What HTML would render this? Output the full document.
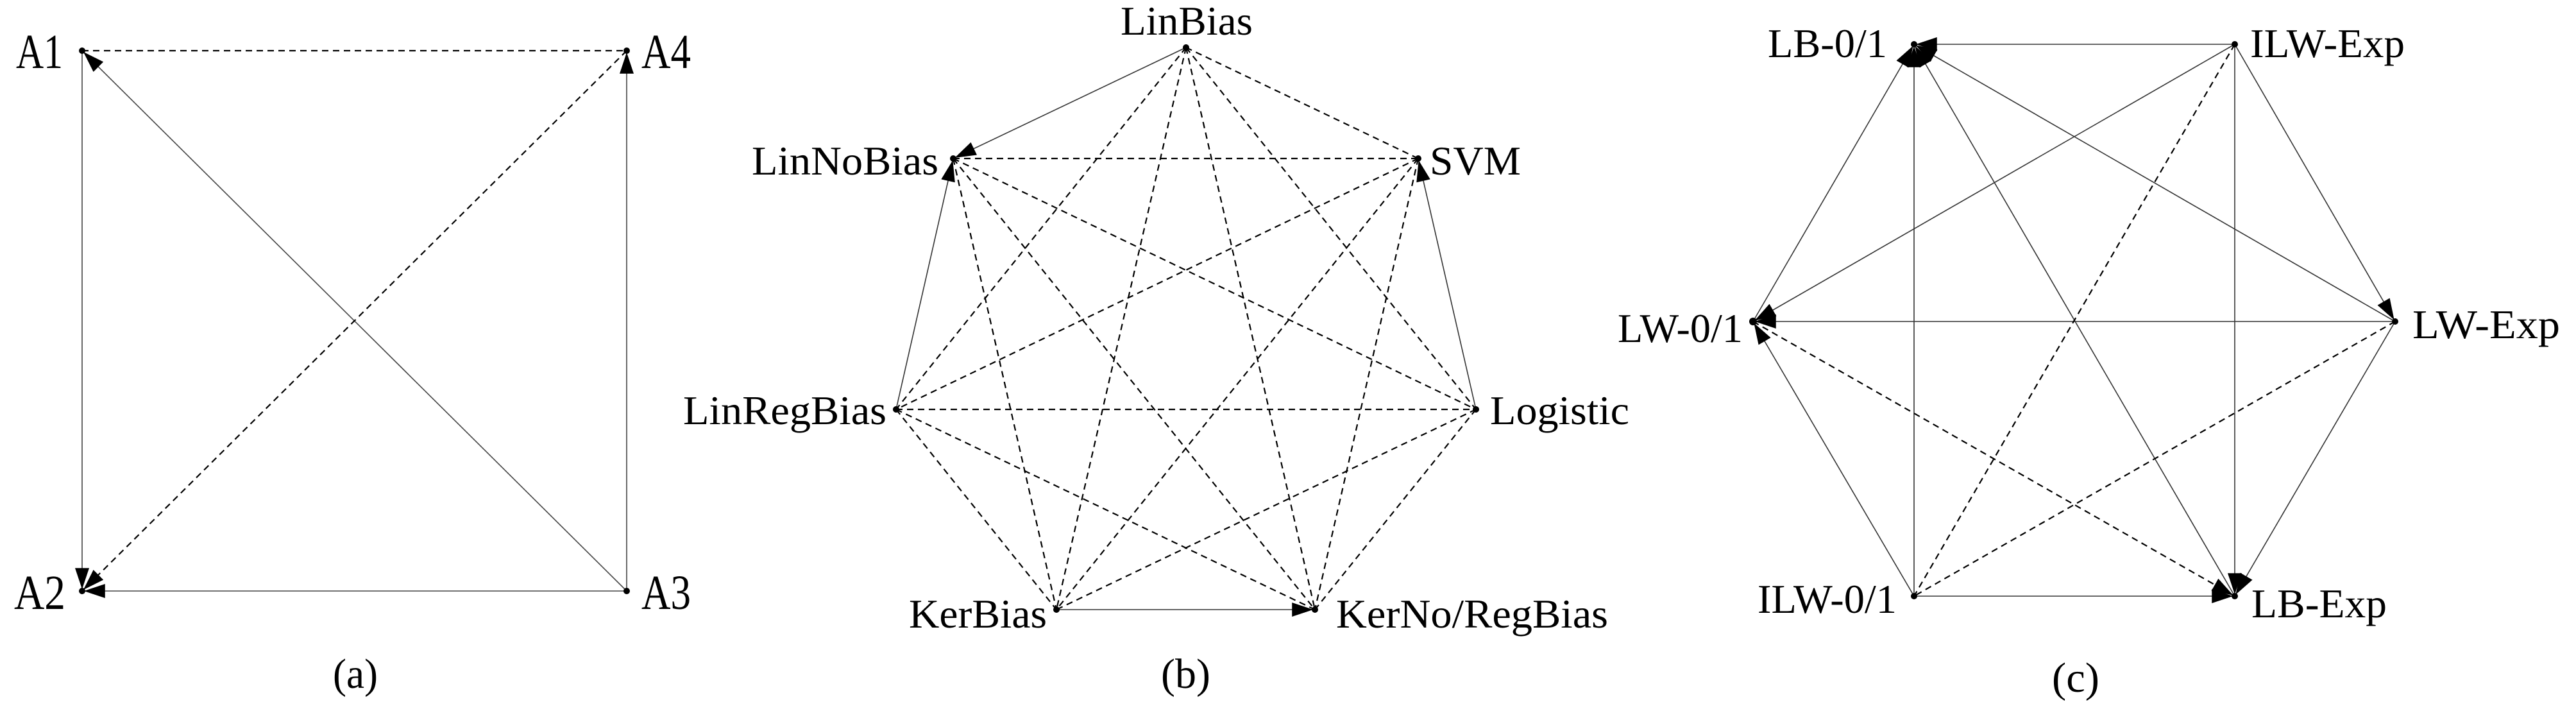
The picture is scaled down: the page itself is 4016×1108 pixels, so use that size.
<!DOCTYPE html>
<html><head><meta charset="utf-8"><style>
html,body{margin:0;padding:0;background:#fff;}
svg{display:block;}
text{font-family:"Liberation Serif",serif;fill:#000;}
</style></head><body>
<svg width="4016" height="1108" viewBox="0 0 4016 1108" xmlns="http://www.w3.org/2000/svg">
<defs>
<marker id="ah" viewBox="0 0 12 8" markerUnits="userSpaceOnUse" markerWidth="36" markerHeight="22" refX="13" refY="4" orient="auto">
<path d="M0,0 L12,4 L0,8 z" fill="#000"/></marker>
</defs>
<g fill="none">
<!-- (a) -->
<g stroke="#444" stroke-width="1.6">
<line x1="128" y1="79" x2="128" y2="921" marker-end="url(#ah)"/>
<line x1="977" y1="921" x2="128" y2="921" marker-end="url(#ah)"/>
<line x1="977" y1="921" x2="977" y2="79" marker-end="url(#ah)"/>
<line x1="977" y1="921" x2="128" y2="79" marker-end="url(#ah)"/>
</g>
<g stroke="#000" stroke-width="2.2" stroke-dasharray="10 7">
<line x1="128" y1="79" x2="977" y2="79"/>
<line x1="977" y1="79" x2="128" y2="921" marker-end="url(#ah)"/>
</g>
<!-- (b) -->
<g stroke="#333" stroke-width="1.6">
<line x1="1849" y1="74" x2="1486" y2="247" marker-end="url(#ah)"/>
<line x1="1397" y1="638" x2="1486" y2="247" marker-end="url(#ah)"/>
<line x1="2301" y1="638" x2="2211" y2="247" marker-end="url(#ah)"/>
<line x1="1647" y1="950" x2="2050" y2="950" marker-end="url(#ah)"/>
</g>
<g stroke="#000" stroke-width="2.2" stroke-dasharray="10 7">
<line x1="1849" y1="74" x2="2211" y2="247"/>
<line x1="1849" y1="74" x2="1397" y2="638"/>
<line x1="1849" y1="74" x2="2301" y2="638"/>
<line x1="1849" y1="74" x2="1647" y2="950"/>
<line x1="1849" y1="74" x2="2050" y2="950"/>
<line x1="1486" y1="247" x2="2211" y2="247"/>
<line x1="1486" y1="247" x2="2301" y2="638"/>
<line x1="1486" y1="247" x2="1647" y2="950"/>
<line x1="1486" y1="247" x2="2050" y2="950"/>
<line x1="2211" y1="247" x2="1397" y2="638"/>
<line x1="2211" y1="247" x2="1647" y2="950"/>
<line x1="2211" y1="247" x2="2050" y2="950"/>
<line x1="1397" y1="638" x2="2301" y2="638"/>
<line x1="1397" y1="638" x2="1647" y2="950"/>
<line x1="1397" y1="638" x2="2050" y2="950"/>
<line x1="2301" y1="638" x2="1647" y2="950"/>
<line x1="2301" y1="638" x2="2050" y2="950"/>
</g>
<!-- (c) -->
<g stroke="#333" stroke-width="1.6">
<line x1="3484" y1="69" x2="2984" y2="69" marker-end="url(#ah)"/>
<line x1="3734" y1="501" x2="2984" y2="69" marker-end="url(#ah)"/>
<line x1="3484" y1="929" x2="2984" y2="69" marker-end="url(#ah)"/>
<line x1="2733" y1="501" x2="2984" y2="69" marker-end="url(#ah)"/>
<line x1="2984" y1="929" x2="2984" y2="69" marker-end="url(#ah)"/>
<line x1="3484" y1="69" x2="2733" y2="501" marker-end="url(#ah)"/>
<line x1="3484" y1="69" x2="3734" y2="501" marker-end="url(#ah)"/>
<line x1="3484" y1="69" x2="3484" y2="929" marker-end="url(#ah)"/>
<line x1="3734" y1="501" x2="2733" y2="501" marker-end="url(#ah)"/>
<line x1="3734" y1="501" x2="3484" y2="929" marker-end="url(#ah)"/>
<line x1="2984" y1="929" x2="2733" y2="501" marker-end="url(#ah)"/>
<line x1="2984" y1="929" x2="3484" y2="929" marker-end="url(#ah)"/>
</g>
<g stroke="#000" stroke-width="2.2" stroke-dasharray="10 7">
<line x1="3484" y1="69" x2="2984" y2="929"/>
<line x1="3734" y1="501" x2="2984" y2="929"/>
<line x1="2733" y1="501" x2="3484" y2="929" marker-end="url(#ah)"/>
</g>
</g>
<g fill="#000">
<circle cx="128" cy="79" r="5"/><circle cx="977" cy="79" r="5"/><circle cx="128" cy="921" r="5"/><circle cx="977" cy="921" r="5"/>
<circle cx="1849" cy="74" r="5"/><circle cx="1486" cy="247" r="5"/><circle cx="2211" cy="247" r="5"/><circle cx="1397" cy="638" r="5"/><circle cx="2301" cy="638" r="5"/><circle cx="1647" cy="950" r="5"/><circle cx="2050" cy="950" r="5"/>
<circle cx="2984" cy="69" r="5"/><circle cx="3484" cy="69" r="5"/><circle cx="2733" cy="501" r="6"/><circle cx="3734" cy="501" r="5"/><circle cx="2984" cy="929" r="5"/><circle cx="3484" cy="929" r="5"/>
</g>
<g font-size="76">
<text x="25" y="106" textLength="73" lengthAdjust="spacingAndGlyphs">A1</text>
<text x="1000" y="106" textLength="77" lengthAdjust="spacingAndGlyphs">A4</text>
<text x="22" y="949" textLength="80" lengthAdjust="spacingAndGlyphs">A2</text>
<text x="1000" y="949" textLength="77" lengthAdjust="spacingAndGlyphs">A3</text>
</g>
<g font-size="64">
<text x="1747" y="54" textLength="206" lengthAdjust="spacingAndGlyphs">LinBias</text>
<text x="1172" y="272" textLength="291" lengthAdjust="spacingAndGlyphs">LinNoBias</text>
<text x="2229" y="272" textLength="142" lengthAdjust="spacingAndGlyphs">SVM</text>
<text x="1065" y="661" textLength="317" lengthAdjust="spacingAndGlyphs">LinRegBias</text>
<text x="2323" y="661" textLength="217" lengthAdjust="spacingAndGlyphs">Logistic</text>
<text x="1417" y="978" textLength="215" lengthAdjust="spacingAndGlyphs">KerBias</text>
<text x="2083" y="978" textLength="424" lengthAdjust="spacingAndGlyphs">KerNo/RegBias</text>
<text x="2756" y="89" textLength="186" lengthAdjust="spacingAndGlyphs">LB-0/1</text>
<text x="3508" y="89" textLength="241" lengthAdjust="spacingAndGlyphs">ILW-Exp</text>
<text x="2522" y="533" textLength="195" lengthAdjust="spacingAndGlyphs">LW-0/1</text>
<text x="3761" y="527" textLength="230" lengthAdjust="spacingAndGlyphs">LW-Exp</text>
<text x="2740" y="955" textLength="217" lengthAdjust="spacingAndGlyphs">ILW-0/1</text>
<text x="3510" y="962" textLength="211" lengthAdjust="spacingAndGlyphs">LB-Exp</text>
</g>
<g font-size="66">
<text x="519" y="1072" textLength="70" lengthAdjust="spacingAndGlyphs">(a)</text>
<text x="1810" y="1072" textLength="77" lengthAdjust="spacingAndGlyphs">(b)</text>
<text x="3199" y="1078" textLength="74" lengthAdjust="spacingAndGlyphs">(c)</text>
</g>
</svg>
</body></html>
